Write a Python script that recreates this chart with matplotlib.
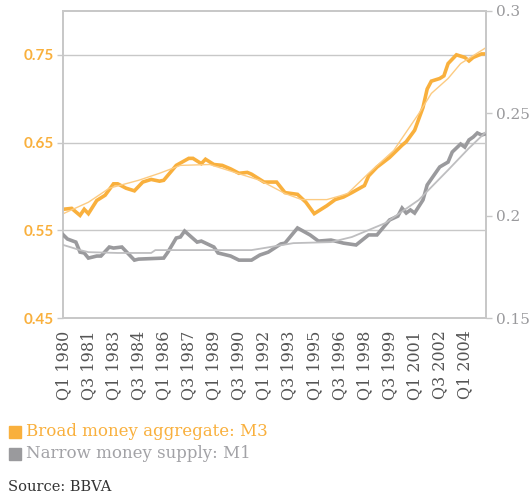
import matplotlib
matplotlib.use('Agg')
import matplotlib.pyplot as plt
from matplotlib.patches import Rectangle

# quarter index 0 = Q1 1980
m3_q = [0, 2, 4, 5, 6, 8, 10, 12, 13, 15, 17, 19, 21, 23, 24, 27, 30, 31, 33, 34,
        36, 38, 40, 42, 44, 45, 48, 51, 53, 56, 58, 60, 63, 65, 67, 69, 72, 73, 75,
        78, 81, 82, 84, 86, 87, 88, 90, 91, 92, 94, 96, 97, 98, 100, 101]
m3_val = [0.574, 0.575, 0.567, 0.574, 0.569, 0.584, 0.590, 0.603, 0.603, 0.598,
          0.595, 0.605, 0.608, 0.606, 0.607, 0.624, 0.632, 0.632, 0.626, 0.631,
          0.625, 0.624, 0.620, 0.615, 0.616, 0.614, 0.605, 0.605, 0.593, 0.591,
          0.582, 0.569, 0.578, 0.585, 0.588, 0.593, 0.601, 0.612, 0.622,
          0.633, 0.647, 0.651, 0.664, 0.690, 0.711, 0.720, 0.723, 0.726, 0.740,
          0.750, 0.747, 0.743, 0.747, 0.751, 0.751]

m3_trend_q = [0, 6, 11, 18, 23, 28, 35, 41, 47, 53, 57, 63, 66, 68, 73, 79, 85,
              88, 92, 95, 101]
m3_trend_val = [0.569, 0.582, 0.598, 0.607, 0.615, 0.624, 0.625, 0.616, 0.607,
                0.592, 0.585, 0.585, 0.589, 0.592, 0.615, 0.641, 0.683, 0.706,
                0.723, 0.740, 0.758]

m1_q = [0, 1, 3, 4, 5, 6, 8, 9, 11, 12, 14, 17, 18, 24, 25, 27, 28, 29, 32, 33,
        36, 37, 40, 42, 45, 47, 49, 52, 53, 56, 59, 61, 64, 67, 70, 73, 75, 78,
        80, 81, 82, 83, 84, 86, 87, 90, 92, 93, 95, 96, 97, 98, 99, 100, 101]
m1_val = [0.1906, 0.1886, 0.1871, 0.1822, 0.1818, 0.1793, 0.1803, 0.1803, 0.1847,
          0.1842, 0.1847, 0.1783, 0.1788, 0.1793, 0.1822, 0.1891, 0.1896, 0.1925,
          0.1871, 0.1876, 0.1847, 0.1818, 0.1803, 0.1783, 0.1783, 0.1808, 0.1822,
          0.1862, 0.1866, 0.1940, 0.1906, 0.1876, 0.1881, 0.1866, 0.1857, 0.1906,
          0.1906, 0.1979, 0.1998, 0.2037, 0.2013, 0.2028, 0.2013, 0.2077, 0.2150,
          0.2238, 0.2262, 0.2311, 0.2350, 0.2335, 0.2370, 0.2384, 0.2404, 0.2394,
          0.2400]

m1_trend_q = [0, 4, 6, 13, 21, 22, 33, 45, 48, 55, 64, 69, 77, 85, 92, 97, 101]
m1_trend_val = [0.1857, 0.1832, 0.1822, 0.1818, 0.1818, 0.1832, 0.1832, 0.1832,
                0.1842, 0.1866, 0.1871, 0.1896, 0.1964, 0.2077, 0.2223, 0.2330,
                0.2408]

tick_labels = ['Q1 1980', 'Q3 1981', 'Q1 1983', 'Q3 1984', 'Q1 1986', 'Q3 1987',
               'Q1 1989', 'Q3 1990', 'Q1 1992', 'Q3 1993', 'Q1 1995', 'Q3 1996',
               'Q1 1998', 'Q3 1999', 'Q1 2001', 'Q3 2002', 'Q1 2004']
left_ticks = [0.45, 0.55, 0.65, 0.75]
right_ticks = [0.15, 0.2, 0.25, 0.3]

ORANGE = '#F9B03D'
ORANGE_LIGHT = '#FCCB82'
GREY = '#9A9A9D'
GREY_LIGHT = '#BEBEC0'
FRAME = '#C8C8C8'

fig = plt.figure(figsize=(5.32, 4.97), dpi=100)
ax1 = fig.add_axes([0.119, 0.360, 0.794, 0.618])
ax2 = ax1.twinx()

ax1.plot(m3_q, m3_val, color=ORANGE, lw=2.6, solid_joinstyle='miter', zorder=3)
ax1.plot(m3_trend_q, m3_trend_val, color=ORANGE_LIGHT, lw=1.0, zorder=4)
ax2.plot(m1_q, m1_val, color=GREY, lw=2.6, solid_joinstyle='miter', zorder=3)
ax2.plot(m1_trend_q, m1_trend_val, color=GREY_LIGHT, lw=1.3, zorder=4)

ax1.set_xlim(0, 101)
ax1.set_ylim(0.45, 0.8)
ax2.set_ylim(0.15, 0.3)

ax1.set_yticks(left_ticks)
ax1.set_yticklabels([f'{v:g}' for v in left_ticks], family='Lato',
                    fontweight='bold', fontsize=11, color=ORANGE)
ax1.tick_params(axis='y', length=4, width=1, color=FRAME, pad=3)
for v in left_ticks[1:]:
    ax1.axhline(v, color=FRAME, lw=1.0, zorder=1)

ax2.set_yticks(right_ticks)
ax2.set_yticklabels([f'{v:g}' for v in right_ticks], family='DejaVu Serif',
                    fontsize=11, color=GREY)
ax2.tick_params(axis='y', length=4, width=1, color=FRAME, pad=3.5)

ax1.set_xticks([i * 6 for i in range(len(tick_labels))])
ax1.set_xticklabels(tick_labels, rotation=90, family='DejaVu Serif',
                    fontsize=11.5, color='#555555')
ax1.tick_params(axis='x', length=0, pad=9)

for ax in (ax1, ax2):
    for s in ax.spines.values():
        s.set_color(FRAME)
        s.set_linewidth(1.3)

fig.add_artist(Rectangle((9 / 532, 1 - 438 / 497), 12 / 532, 12 / 497,
                         transform=fig.transFigure, color=ORANGE))
fig.add_artist(Rectangle((9 / 532, 1 - 460 / 497), 12 / 532, 12 / 497,
                         transform=fig.transFigure, color=GREY))
fig.text(26 / 532, 1 - 432 / 497, 'Broad money aggregate: M3', color=ORANGE,
         family='DejaVu Serif', fontsize=12, va='center')
fig.text(26 / 532, 1 - 454 / 497, 'Narrow money supply: M1', color='#A2A2A6',
         family='DejaVu Serif', fontsize=12, va='center')
fig.text(8 / 532, 1 - 487 / 497, 'Source: BBVA', color='#333333',
         family='DejaVu Serif', fontsize=10.5, va='center')

fig.savefig('out.png', dpi=100)
